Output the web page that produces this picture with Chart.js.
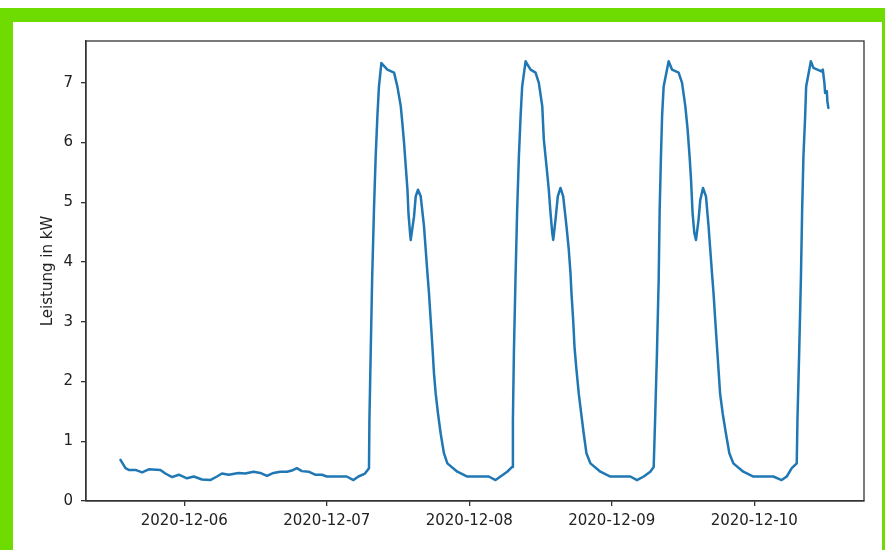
<!DOCTYPE html>
<html>
<head>
<meta charset="utf-8">
<script src="https://cdn.jsdelivr.net/npm/chart.js@4.4.1/dist/chart.umd.min.js"></script>
<style>
    html, body { margin: 0; padding: 0; background: #fff; overflow: hidden; }
    #frame {
        position: absolute; left: 0; top: 8px; width: 869px; height: 560px;
        border-top: 14px solid #6edc00; border-left: 13px solid #6edc00; border-right: 3px solid #6edc00;
    }
    #chart { position: absolute; left: 0; top: 0; }
</style>
</head>
<body>
<div id="frame"></div>
<canvas id="chart" width="885" height="550"></canvas>
<script>
// x values are days of December 2020 (fractional), y values in kW

// Dec 5 afternoon -> Dec 7 morning, low base load
const baseTimes = [5.552, 5.587, 5.610, 5.657, 5.704, 5.750, 5.832, 5.867, 5.914, 5.961, 6.019, 6.066,
    6.124, 6.182, 6.229, 6.264, 6.311, 6.381, 6.427, 6.486, 6.533, 6.580, 6.626, 6.673,
    6.720, 6.755, 6.790, 6.825, 6.872, 6.918, 6.965, 7.000, 7.140, 7.187, 7.222, 7.268];
const baseKw = [0.69, 0.55, 0.52, 0.52, 0.48, 0.53, 0.52, 0.46, 0.40, 0.44, 0.38, 0.41,
    0.36, 0.35, 0.41, 0.46, 0.44, 0.47, 0.46, 0.49, 0.47, 0.42, 0.47, 0.49,
    0.49, 0.51, 0.55, 0.50, 0.49, 0.44, 0.44, 0.41, 0.41, 0.35, 0.41, 0.46];

const dec7Times = [7.296, 7.299, 7.308, 7.318, 7.331, 7.343, 7.355, 7.366, 7.383, 7.425, 7.472, 7.495,
    7.519, 7.530, 7.542, 7.554, 7.566, 7.573, 7.584, 7.589, 7.612, 7.624, 7.640, 7.659,
    7.682, 7.694, 7.706, 7.717, 7.729, 7.741, 7.752, 7.764, 7.780, 7.799, 7.822, 7.846,
    7.916, 7.986, 8.137, 8.184, 8.219, 8.266];
const dec7Kw = [0.55, 1.36, 2.48, 3.70, 4.88, 5.77, 6.44, 6.94, 7.33, 7.22, 7.17, 6.94,
    6.61, 6.33, 6.00, 5.60, 5.21, 4.82, 4.49, 4.37, 4.76, 5.10, 5.21, 5.10,
    4.60, 4.21, 3.82, 3.48, 3.03, 2.59, 2.14, 1.80, 1.47, 1.13, 0.80, 0.63,
    0.49, 0.41, 0.41, 0.35, 0.41, 0.49];

const dec8Times = [8.301, 8.306, 8.313, 8.324, 8.336, 8.348, 8.360, 8.371, 8.395, 8.430, 8.465, 8.488,
    8.512, 8.523, 8.542, 8.558, 8.570, 8.582, 8.589, 8.605, 8.621, 8.640, 8.659, 8.682,
    8.698, 8.710, 8.717, 8.729, 8.738, 8.752, 8.768, 8.785, 8.803, 8.822, 8.850, 8.920,
    8.990, 9.130, 9.177, 9.224, 9.270];
const dec8Kw = [0.57, 1.36, 2.48, 3.70, 4.88, 5.77, 6.44, 6.94, 7.36, 7.22, 7.17, 7.00,
    6.61, 6.05, 5.60, 5.21, 4.82, 4.49, 4.37, 4.71, 5.10, 5.24, 5.10, 4.60,
    4.21, 3.82, 3.48, 3.03, 2.59, 2.20, 1.80, 1.47, 1.13, 0.80, 0.63, 0.49,
    0.41, 0.41, 0.35, 0.41, 0.49];

const dec9Times = [9.294, 9.304, 9.317, 9.329, 9.336, 9.345, 9.353, 9.364, 9.399, 9.423, 9.469, 9.493,
    9.516, 9.532, 9.546, 9.556, 9.567, 9.579, 9.591, 9.609, 9.621, 9.640, 9.661, 9.679,
    9.691, 9.703, 9.714, 9.726, 9.738, 9.749, 9.760, 9.778, 9.801, 9.825, 9.853, 9.923,
    9.994, 10.134, 10.192, 10.228];
const dec9Kw = [0.57, 1.36, 2.48, 3.70, 4.88, 5.77, 6.44, 6.94, 7.36, 7.22, 7.17, 7.00,
    6.61, 6.22, 5.77, 5.38, 4.82, 4.49, 4.37, 4.71, 5.04, 5.24, 5.10, 4.60,
    4.21, 3.82, 3.48, 3.03, 2.59, 2.20, 1.80, 1.47, 1.13, 0.80, 0.63, 0.49,
    0.41, 0.41, 0.35, 0.41];

const dec10Times = [10.263, 10.298, 10.303, 10.315, 10.327, 10.336, 10.345, 10.357, 10.364, 10.397,
    10.415, 10.443, 10.474, 10.481, 10.492, 10.497, 10.509, 10.513, 10.520];
const dec10Kw = [0.55, 0.63, 1.36, 2.48, 3.70, 4.88, 5.77, 6.44, 6.94, 7.36,
    7.25, 7.22, 7.19, 7.22, 7.00, 6.83, 6.86, 6.69, 6.58];

const xTickValues = [6, 7, 8, 9, 10];
const xTickLabels = ['2020-12-06', '2020-12-07', '2020-12-08', '2020-12-09', '2020-12-10'];
const yTickValues = [0, 1, 2, 3, 4, 5, 6, 7];

const allTimes = [].concat(baseTimes, dec7Times, dec8Times, dec9Times, dec10Times);
const allKw = [].concat(baseKw, dec7Kw, dec8Kw, dec9Kw, dec10Kw);
const points = allTimes.map((t, i) => ({ x: t, y: allKw[i] }));

const font = { family: "'DejaVu Sans', sans-serif", size: 15 };
const axisColor = '#333';
const textColor = '#222';

// matplotlib-style box round the plot area
const boxPlugin = {
    id: 'box',
    afterDraw(chart) {
        const { ctx, chartArea: a } = chart;
        ctx.save();
        ctx.strokeStyle = axisColor;
        ctx.lineWidth = 1.3;
        ctx.strokeRect(a.left, a.top, a.right - a.left, a.bottom - a.top);
        ctx.restore();
    }
};

new Chart(document.getElementById('chart').getContext('2d'), {
    type: 'line',
    data: {
        datasets: [{
            data: points,
            borderColor: '#1f77b4',
            borderWidth: 2.5,
            borderJoinStyle: 'round',
            borderCapStyle: 'round',
            pointRadius: 0,
            tension: 0,
            fill: false
        }]
    },
    options: {
        responsive: false,
        animation: false,
        devicePixelRatio: 1,
        layout: { padding: { left: 35, top: 41, right: 21, bottom: 0 } },
        plugins: {
            legend: { display: false },
            tooltip: { enabled: false }
        },
        scales: {
            x: {
                type: 'linear',
                min: 5.31,
                max: 10.77,
                afterBuildTicks: s => { s.ticks = xTickValues.map(v => ({ value: v })); },
                afterFit: s => { s.height = 49; },
                grid: { drawOnChartArea: false, drawTicks: true, tickLength: 5, color: axisColor, lineWidth: 1.3 },
                border: { color: axisColor, width: 1.3 },
                ticks: {
                    color: textColor, font, padding: 6, maxRotation: 0, autoSkip: false,
                    callback: (v, i) => xTickLabels[i]
                }
            },
            y: {
                min: 0,
                max: 7.70,
                afterBuildTicks: s => { s.ticks = yTickValues.map(v => ({ value: v })); },
                afterFit: s => { s.width = 51; },
                grid: { drawOnChartArea: false, drawTicks: true, tickLength: 5, color: axisColor, lineWidth: 1.3 },
                border: { color: axisColor, width: 1.3 },
                ticks: { color: textColor, font, padding: 8, callback: v => String(v) },
                title: {
                    display: true,
                    text: 'Leistung in kW',
                    color: textColor,
                    font,
                    padding: { top: 4, bottom: 0 }
                }
            }
        }
    },
    plugins: [boxPlugin]
});
</script>
</body>
</html>
